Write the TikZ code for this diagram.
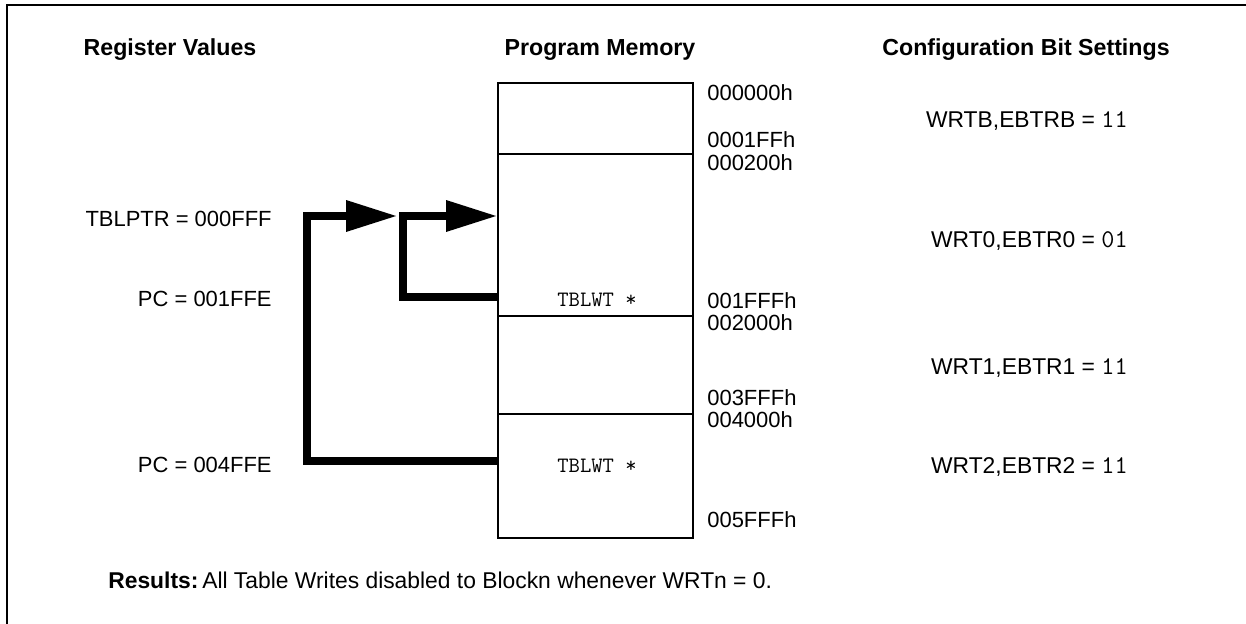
\documentclass[tikz,border=0pt]{standalone}
\usepackage{fontspec}
\setmainfont{Liberation Sans}
\usetikzlibrary{arrows.meta,positioning,calc}
\tikzset{
    mhead/.style={font=\fontsize{13.2}{16}\selectfont\bfseries, inner sep=0pt},
    mtext/.style={font=\fontsize{12.5}{15}\selectfont, inner sep=0pt},
    mcfg/.style={font=\fontsize{13}{15}\selectfont, inner sep=0pt, anchor=east},
    maddr/.style={mtext, anchor=west},
    mblk/.style={
        rectangle, draw=black, line width=1.1pt, fill=white,
        minimum width=3.9cm, inner sep=0pt, anchor=north west
    },
    mcode/.style={font=\fontsize{12.5}{15}\selectfont\ttfamily, inner sep=0pt},
    mjump/.style={line width=4pt, black, line cap=butt, line join=miter,
        -{Triangle[length=29pt, width=17pt]}},
}
\newcommand{\bitval}[1]{{\fontsize{14.5}{15}\selectfont\ttfamily #1}}

\begin{document}
\begin{tikzpicture}[x=0.02cm, y=-0.02cm]
    \useasboundingbox (0,0) rectangle (1246,624);
    \draw [line width=1.6pt] (7,624) -- (7,5) -- (1246,5);

    \node [mhead] (hreg) at (170,50) {Register Values};
    \node [mhead] (hmem) at (600,50) {Program Memory};
    \node [mhead] (hcfg) at (1026,50) {Configuration Bit Settings};

    % memory blocks
    \node [mblk, minimum height=1.42cm] (blkb) at (497,82) {};
    \node [mblk, minimum height=3.24cm] (blk0) at (497,153) {};
    \node [mblk, minimum height=1.96cm] (blk1) at (497,315) {};
    \node [mblk, minimum height=2.48cm] (blk2) at (497,413) {};

    \node [mcode] (tbw0) at (597,300) {TBLWT *};
    \node [mcode] (tbw2) at (597,466) {TBLWT *};

    \node [maddr] (a0) at (707,93)  {000000h};
    \node [maddr] (a1) at (707,140) {0001FFh};
    \node [maddr] (a2) at (707,163) {000200h};
    \node [maddr] (a3) at (707,301) {001FFFh};
    \node [maddr] (a4) at (707,323) {002000h};
    \node [maddr] (a5) at (707,398) {003FFFh};
    \node [maddr] (a6) at (707,420) {004000h};
    \node [maddr] (a7) at (707,520) {005FFFh};

    \node [mtext, anchor=east] (tblptr) at (272,219) {TBLPTR = 000FFF};
    \node [mtext, anchor=east] (pc1) at (272,299) {PC = 001FFE};
    \node [mtext, anchor=east] (pc2) at (272,465) {PC = 004FFE};

    \node [mcfg] (cfgb) at (1128,121) {WRTB,EBTRB = \bitval{11}};
    \node [mcfg] (cfg0) at (1128,241) {WRT0,EBTR0 = \bitval{01}};
    \node [mcfg] (cfg1) at (1128,368) {WRT1,EBTR1 = \bitval{11}};
    \node [mcfg] (cfg2) at (1128,467) {WRT2,EBTR2 = \bitval{11}};

    \coordinate (tip) at (397,216);

    \draw [mjump] (blk2.west |- 0,461) -| (307,216) -- (tip);
    \draw [mjump] (blk0.west |- 0,297) -| (403,216) -- (blk0.west |- tip);

    \node [mcfg, anchor=west] (res) at (108,580)
        {\textbf{Results:}\,All Table Writes disabled to Blockn whenever WRTn = 0.};

\end{tikzpicture}
\end{document}
